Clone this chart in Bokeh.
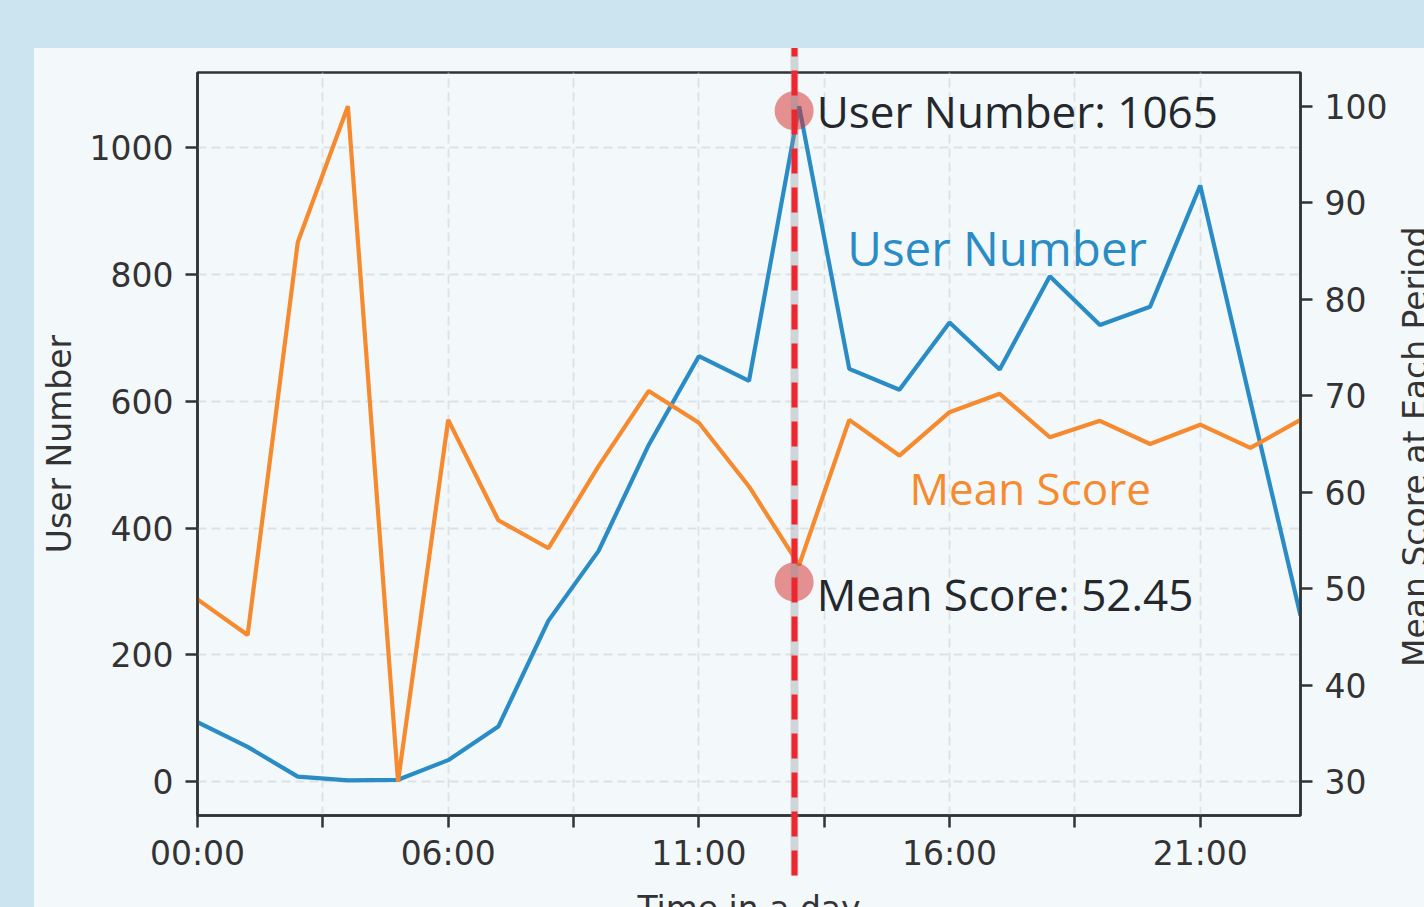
from bokeh.plotting import figure
from bokeh.models import Range1d, LinearAxis, FixedTicker, Label, Spacer, Div
from bokeh.layouts import column, row
from bokeh.embed import file_html
from bokeh.resources import INLINE

# ---------------- data ----------------
hour_index = list(range(23))
tick_positions = [0, 2.5, 5, 7.5, 10, 12.5, 15, 17.5, 20]
tick_labels = ["00:00", "", "06:00", "", "11:00", "", "16:00", "", "21:00"]
user_number = [94, 55, 8, 2, 3, 34, 87, 254, 364, 531, 671, 632, 1065,
               651, 618, 724, 650, 797, 720, 749, 940, 600, 262]
mean_score = [48.9, 45.2, 85.9, 100, 30, 67.5, 57.1, 54.2, 62.7, 70.5, 67.2,
              60.6, 52.45, 67.5, 63.8, 68.3, 70.2, 65.7, 67.4, 65.0, 67.0, 64.6, 67.5]
user_ticks = [0, 200, 400, 600, 800, 1000]
score_ticks = [30, 40, 50, 60, 70, 80, 90, 100]

hover_i = 12            # highlighted period
hover_x = 11.9          # where the cursor line sits
hover_user_marker = 1058
hover_score_marker = 50.7

# ---------------- style ----------------
PAGE_BG = "#cce4f0"
PANEL_BG = "#f3f8fb"
BLUE = "#2a8cc5"
ORANGE = "#f68a2e"
DARK = "#333333"
TXT = "#24282c"
GRID = "#dde1e5"

Y0, Y1 = -53.25, 1118.25

p = figure(width=1364, height=891,
           x_range=Range1d(0, 22), y_range=Range1d(Y0, Y1),
           output_backend="svg", toolbar_location=None,
           min_border_left=163, min_border_right=98,
           min_border_top=24, min_border_bottom=124,
           background_fill_color=PANEL_BG, border_fill_color=PANEL_BG)
p.extra_y_ranges = {"score": Range1d(26.5, 103.5)}

p.outline_line_color = DARK
p.outline_line_width = 2.5

# axes
xax = p.xaxis[0]
xax.ticker = FixedTicker(ticks=tick_positions)
xax.major_label_overrides = {t: l for t, l in zip(tick_positions, tick_labels)}
yax = p.yaxis[0]
yax.ticker = FixedTicker(ticks=user_ticks)
yax.axis_label = "User Number"

rax = LinearAxis(y_range_name="score", ticker=FixedTicker(ticks=score_ticks))
p.add_layout(rax, "right")

for ax in (xax, yax, rax):
    ax.axis_line_color = DARK
    ax.axis_line_width = 2.5
    ax.major_tick_line_color = DARK
    ax.major_tick_line_width = 2.5
    ax.major_tick_out = 12
    ax.major_tick_in = 0
    ax.minor_tick_line_color = None
    ax.major_label_text_font = "DejaVu Sans"
    ax.major_label_text_font_size = "33px"
    ax.major_label_text_color = DARK
    ax.axis_label_text_font = "DejaVu Sans"
    ax.axis_label_text_font_size = "33px"
    ax.axis_label_text_font_style = "normal"
    ax.axis_label_text_color = DARK
xax.major_label_standoff = 6
yax.major_label_standoff = 12
yax.axis_label_standoff = 8
rax.major_label_standoff = 12

# grid
p.xgrid.ticker = FixedTicker(ticks=tick_positions)
p.ygrid.ticker = FixedTicker(ticks=user_ticks)
for g in (p.xgrid, p.ygrid):
    g.grid_line_color = GRID
    g.grid_line_width = 1.8
    g.grid_line_dash = "9 5"

# lines
p.line(hour_index, user_number, line_color=BLUE, line_width=4.2)
p.line(hour_index, mean_score, line_color=ORANGE, line_width=4.2, y_range_name="score")

# highlight markers
p.scatter([hover_x], [hover_user_marker], size=39, fill_color="#d62728",
          fill_alpha=0.5, line_color=None)
p.scatter([hover_x], [hover_score_marker], size=39, fill_color="#d62728",
          fill_alpha=0.5, line_color=None, y_range_name="score")

# cursor line: one long inward tick of zero-size axes stacked under the x axis
# (side-panel axes are not clipped to the frame)
for color, alpha, width, dash in (("#8f969c", 0.35, 8, "solid"),
                                  ("#f0262e", 1.0, 6, "25 14")):
    cur = LinearAxis(ticker=FixedTicker(ticks=[hover_x]),
                     axis_line_color=None, minor_tick_line_color=None,
                     major_label_text_font_size="0px", major_label_standoff=0,
                     major_label_overrides={hover_x: ""},
                     major_tick_in=830, major_tick_out=0,
                     major_tick_line_color=color, major_tick_line_alpha=alpha,
                     major_tick_line_width=width, major_tick_line_dash=dash)
    p.add_layout(cur, "below")

# x-axis title on its own tick-less axis
title_ax = LinearAxis(ticker=FixedTicker(ticks=[]), axis_line_color=None,
                      major_tick_line_color=None, minor_tick_line_color=None,
                      major_label_text_font_size="0px", major_label_standoff=0,
                      major_tick_in=0, major_tick_out=0,
                      axis_label="Time in a day", axis_label_standoff=13,
                      axis_label_text_font="DejaVu Sans",
                      axis_label_text_font_size="33px",
                      axis_label_text_font_style="normal",
                      axis_label_text_color=DARK)
p.add_layout(title_ax, "below")

# hover texts
p.add_layout(Label(x=12.35, y=1058, text=f"User Number: {user_number[hover_i]}",
                   text_font="Open Sans", text_font_size="44px", text_color=TXT,
                   text_baseline="alphabetic", text_align="left"))
p.add_layout(Label(x=12.35, y=49.44, y_range_name="score",
                   text=f"Mean Score: {mean_score[hover_i]}",
                   text_font="Open Sans", text_font_size="44px", text_color=TXT,
                   text_baseline="alphabetic", text_align="left"))

# series labels
p.add_layout(Label(x=12.96, y=842, text="User Number", text_font="Open Sans",
                   text_font_size="47.5px", text_color=BLUE,
                   text_baseline="alphabetic", text_align="left"))
p.add_layout(Label(x=14.2, y=60.4, y_range_name="score", text="Mean Score",
                   text_font="Open Sans", text_font_size="44px", text_color=ORANGE,
                   text_baseline="alphabetic", text_align="left"))

# right-hand title (reads bottom to top, runs past the page edge)
right_title = Div(text="Mean Score at Each Period", width=40, height=788,
                  styles={"writing-mode": "vertical-rl", "transform": "rotate(180deg)",
                          "font-family": "DejaVu Sans", "font-size": "33px",
                          "line-height": "26px", "color": DARK, "text-align": "center",
                          "white-space": "nowrap", "overflow": "visible",
                          "background-color": PANEL_BG})

top = Spacer(width=1438, height=48)
left = Spacer(width=34, height=891, styles={"background-color": PAGE_BG})
body = row(left, p, right_title, styles={"background-color": PANEL_BG})
layout = column(top, body, styles={"background-color": PAGE_BG})

html = file_html(layout, INLINE)
html = html.replace("<body>",
                    f'<body style="background-color:{PAGE_BG}; overflow:hidden;">', 1)
open("out.html", "w").write(html)
